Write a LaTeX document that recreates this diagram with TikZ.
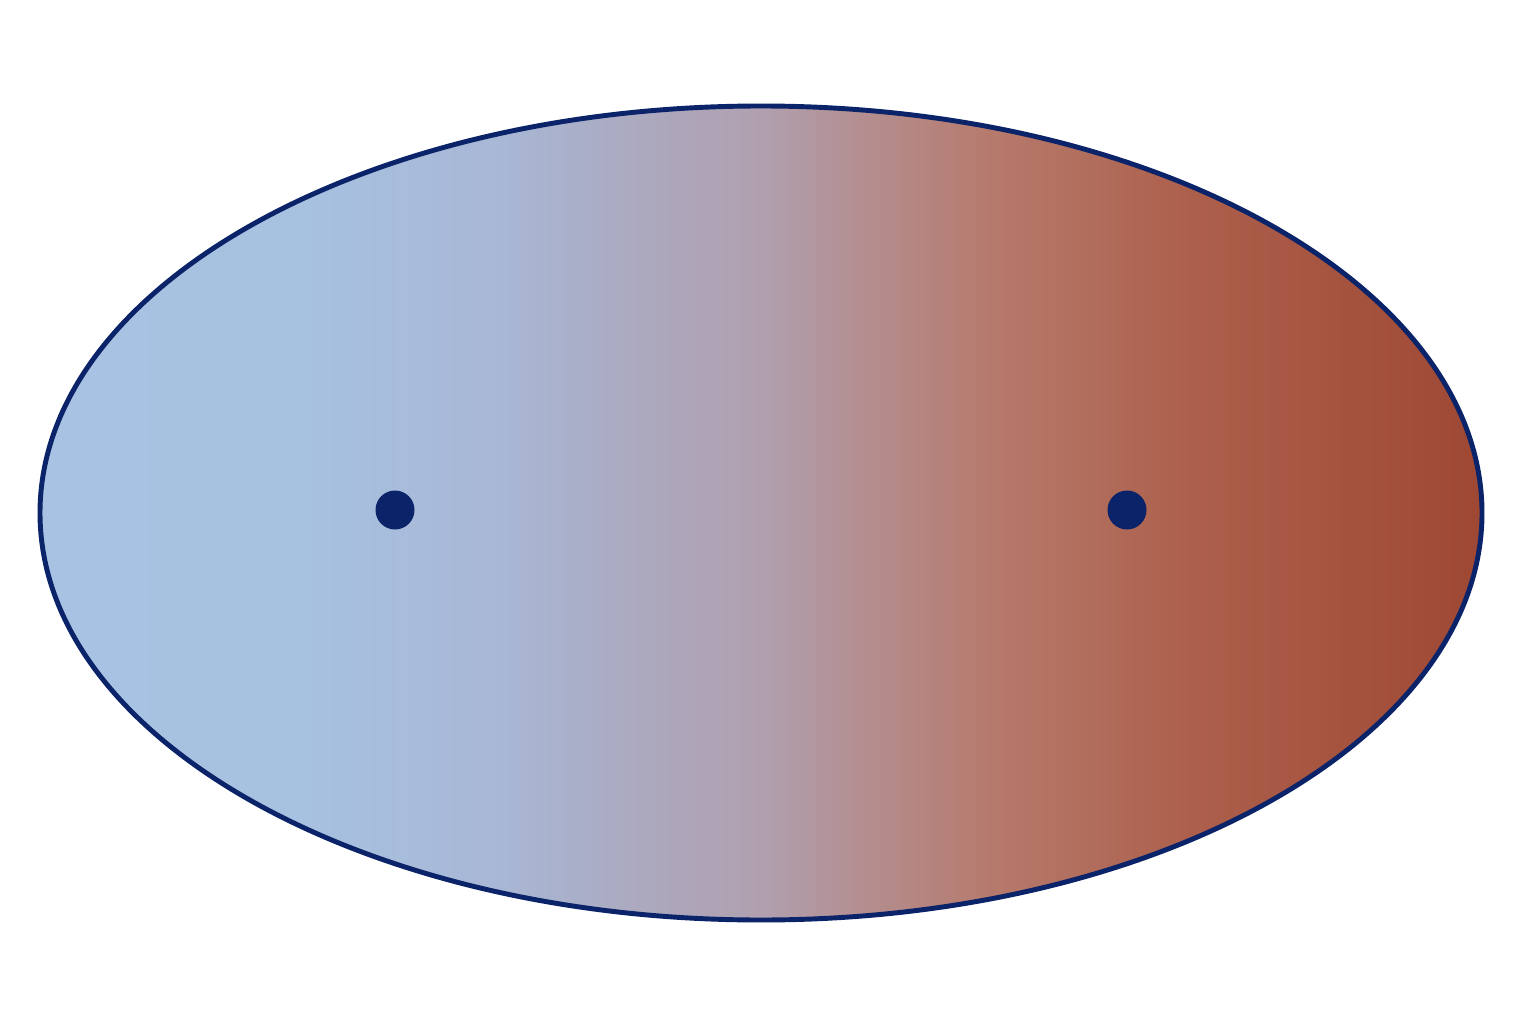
\documentclass[tikz,border=0pt]{standalone}
\usetikzlibrary{shapes.geometric}
\definecolor{navy}{RGB}{10,35,105}
\pgfdeclarehorizontalshading{skytorust}{100bp}{
    rgb(0bp)=(0.655,0.761,0.886);
    rgb(25bp)=(0.655,0.761,0.886);
    rgb(34bp)=(0.655,0.757,0.882);
    rgb(41bp)=(0.659,0.718,0.835);
    rgb(46bp)=(0.675,0.659,0.745);
    rgb(50bp)=(0.690,0.627,0.686);
    rgb(54bp)=(0.706,0.549,0.549);
    rgb(58bp)=(0.714,0.478,0.424);
    rgb(65bp)=(0.675,0.373,0.294);
    rgb(75bp)=(0.620,0.282,0.204);
    rgb(100bp)=(0.620,0.282,0.204)}
\begin{document}
\begin{tikzpicture}
    \useasboundingbox (0,0) rectangle (15.36,10.24);
    \node at (7.61,5.11) [draw=navy, line width=1.4pt, ellipse, inner sep=0pt, minimum width=14.42cm, minimum height=8.14cm, shading=skytorust] (oval) {};
    \node at (3.95,5.14) [circle, fill=navy, inner sep=0pt, minimum size=0.39cm] (focusL) {};
    \node at (11.27,5.14) [circle, fill=navy, inner sep=0pt, minimum size=0.39cm] (focusR) {};
\end{tikzpicture}
\end{document}
